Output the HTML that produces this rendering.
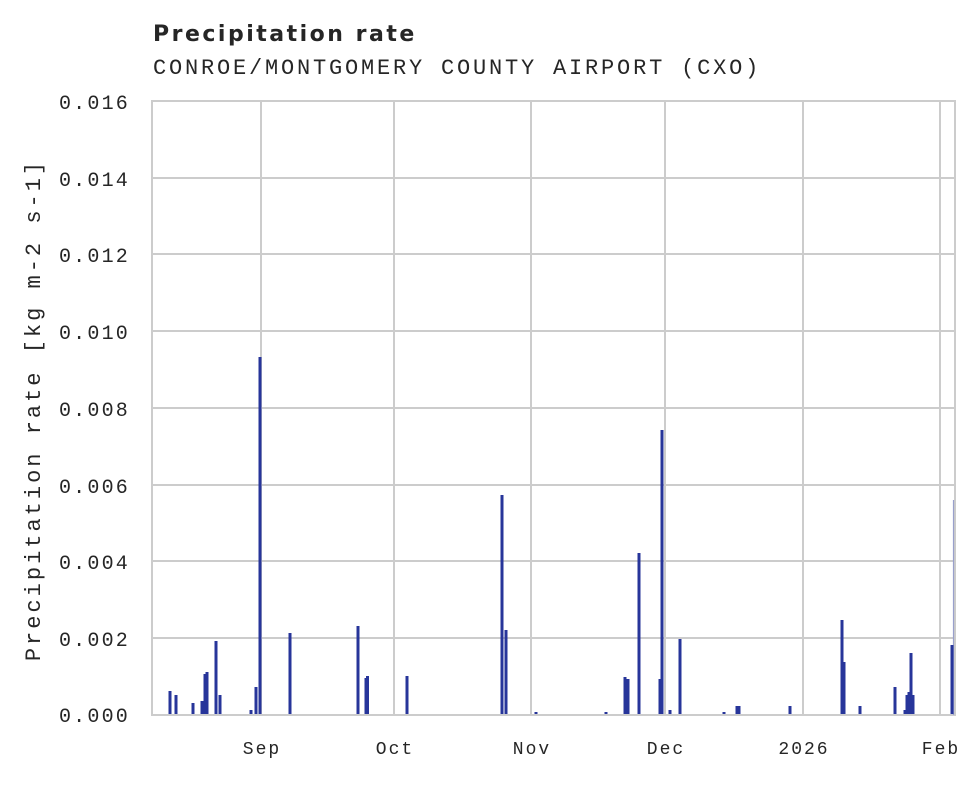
<!DOCTYPE html>
<html><head><style>
body{margin:0;background:#fff;width:980px;height:780px;overflow:hidden}
</style></head><body>
<svg width="980" height="780" xmlns="http://www.w3.org/2000/svg">
<text x="153" y="41" font-family="DejaVu Sans, sans-serif" font-weight="bold" font-size="22" letter-spacing="2.5" fill="#262626">Precipitation rate</text>
<text x="153" y="74" font-family="Liberation Mono, monospace" font-size="22" letter-spacing="2.8" fill="#262626">CONROE/MONTGOMERY COUNTY AIRPORT (CXO)</text>
<g stroke="#cccccc" stroke-width="2">
<line x1="152" x2="955" y1="178" y2="178"/><line x1="152" x2="955" y1="254" y2="254"/>
<line x1="152" x2="955" y1="331" y2="331"/><line x1="152" x2="955" y1="408" y2="408"/>
<line x1="152" x2="955" y1="485" y2="485"/><line x1="152" x2="955" y1="561" y2="561"/>
<line x1="152" x2="955" y1="638" y2="638"/>
<line x1="261" x2="261" y1="101" y2="715"/><line x1="394" x2="394" y1="101" y2="715"/>
<line x1="531" x2="531" y1="101" y2="715"/><line x1="665" x2="665" y1="101" y2="715"/>
<line x1="803" x2="803" y1="101" y2="715"/><line x1="940" x2="940" y1="101" y2="715"/>
<rect x="152" y="101" width="803" height="614" fill="none"/>
</g>
<g font-family="Liberation Mono, monospace" font-size="20" letter-spacing="2.2" fill="#262626" text-anchor="end">
<text x="130" y="109">0.016</text><text x="130" y="186">0.014</text><text x="130" y="262">0.012</text>
<text x="130" y="339">0.010</text><text x="130" y="416">0.008</text><text x="130" y="493">0.006</text>
<text x="130" y="569">0.004</text><text x="130" y="646">0.002</text><text x="130" y="722">0.000</text>
</g>
<g font-family="Liberation Mono, monospace" font-size="18" letter-spacing="2" fill="#262626" text-anchor="middle">
<text x="262" y="754">Sep</text><text x="395" y="754">Oct</text><text x="532" y="754">Nov</text>
<text x="666" y="754">Dec</text><text x="804" y="754">2026</text><text x="941" y="754">Feb</text>
</g>
<text transform="translate(40,410) rotate(-90)" font-family="Liberation Mono, monospace" font-size="22" letter-spacing="3.0" fill="#262626" text-anchor="middle">Precipitation rate [kg m-2 s-1]</text>
<line x1="953.5" x2="953.5" y1="500" y2="715" stroke="#9aa0cc" stroke-width="1.2"/>
<g fill="#27359a">
<rect x="168.5" y="691" width="3" height="23"/>
<rect x="174.5" y="695" width="3" height="19"/>
<rect x="191.5" y="703" width="3" height="11"/>
<rect x="200.5" y="701" width="3" height="13"/>
<rect x="203.5" y="674" width="3" height="40"/>
<rect x="205.5" y="672" width="3" height="42"/>
<rect x="214.5" y="641" width="3" height="73"/>
<rect x="218.5" y="695" width="3" height="19"/>
<rect x="249.5" y="710" width="3" height="4"/>
<rect x="254.5" y="687" width="3" height="27"/>
<rect x="258.5" y="357" width="3" height="357"/>
<rect x="288.5" y="633" width="3" height="81"/>
<rect x="356.5" y="626" width="3" height="88"/>
<rect x="364.5" y="678" width="3" height="36"/>
<rect x="366" y="676" width="3" height="38"/>
<rect x="405.5" y="676" width="3" height="38"/>
<rect x="500.5" y="495" width="3" height="219"/>
<rect x="504.5" y="630" width="3" height="84"/>
<rect x="534.5" y="712" width="3" height="2"/>
<rect x="604.5" y="712" width="3" height="2"/>
<rect x="623.5" y="677" width="3" height="37"/>
<rect x="626.5" y="679" width="3" height="35"/>
<rect x="637.5" y="553" width="3" height="161"/>
<rect x="658.5" y="679" width="3" height="35"/>
<rect x="660.5" y="430" width="3" height="284"/>
<rect x="668.5" y="710" width="3" height="4"/>
<rect x="678.5" y="639" width="3" height="75"/>
<rect x="722.5" y="712" width="3" height="2"/>
<rect x="735.5" y="706" width="3" height="8"/>
<rect x="737.5" y="706" width="3" height="8"/>
<rect x="788.5" y="706" width="3" height="8"/>
<rect x="840.5" y="620" width="3" height="94"/>
<rect x="842.5" y="662" width="3" height="52"/>
<rect x="858.5" y="706" width="3" height="8"/>
<rect x="893.5" y="687" width="3" height="27"/>
<rect x="903.5" y="710" width="3" height="4"/>
<rect x="905.5" y="695" width="3" height="19"/>
<rect x="907.5" y="692" width="3" height="22"/>
<rect x="909.5" y="653" width="3" height="61"/>
<rect x="911.5" y="695" width="3" height="19"/>
<rect x="950.5" y="645" width="3" height="69"/>
</g>
</svg>
</body></html>
